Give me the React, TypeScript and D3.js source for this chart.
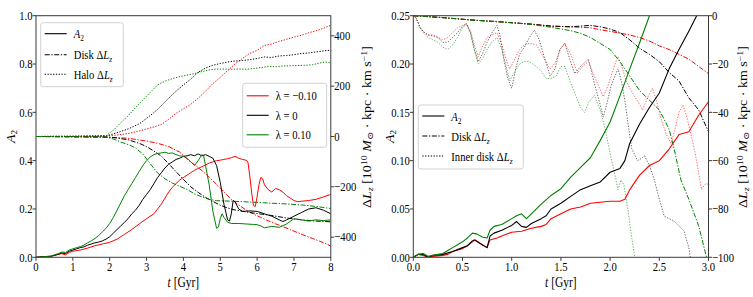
import React from 'react';
import * as d3 from 'd3';

type P = [number, number];

const SX = 0.82;
const FONT = "'Liberation Serif', 'DejaVu Serif', 'Times New Roman', serif";
const RED = '#ff0000';
const BLACK = '#000000';
const GREEN = '#008000';

// ---------- Left panel (0-8 Gyr) ----------
const leftXTicks = [0, 1, 2, 3, 4, 5, 6, 7, 8];
const leftATicks = [0, 0.2, 0.4, 0.6, 0.8, 1.0];
const leftLTicks = [-400, -200, 0, 200, 400];

const leftA2Red: P[] = [[0,0],[0.2,0.002],[0.4,0.004],[0.6,0.012],[0.7,0.015],[0.8,0.01],[0.9,0.02],[1.0,0.025],[1.2,0.03],[1.4,0.038],[1.6,0.048],[1.8,0.055],[2.0,0.062],[2.2,0.075],[2.4,0.095],[2.6,0.115],[2.8,0.138],[3.0,0.16],[3.2,0.18],[3.3,0.2],[3.4,0.22],[3.5,0.245],[3.6,0.27],[3.7,0.29],[3.8,0.305],[3.9,0.32],[4.0,0.33],[4.1,0.34],[4.2,0.35],[4.3,0.36],[4.4,0.368],[4.5,0.375],[4.6,0.382],[4.7,0.39],[4.8,0.395],[4.9,0.4],[5.0,0.402],[5.1,0.405],[5.2,0.408],[5.3,0.412],[5.4,0.418],[5.5,0.41],[5.6,0.405],[5.7,0.402],[5.75,0.395],[5.8,0.34],[5.85,0.27],[5.9,0.215],[5.95,0.21],[6.0,0.25],[6.05,0.3],[6.1,0.33],[6.15,0.325],[6.2,0.3],[6.3,0.28],[6.4,0.27],[6.5,0.285],[6.6,0.28],[6.7,0.27],[6.8,0.255],[6.9,0.245],[7.0,0.235],[7.1,0.23],[7.2,0.232],[7.4,0.235],[7.6,0.24],[7.8,0.25],[8.0,0.26]];
const leftA2Black: P[] = [[0,0],[0.2,0.003],[0.4,0.004],[0.6,0.012],[0.7,0.018],[0.8,0.015],[0.9,0.025],[1.0,0.03],[1.1,0.035],[1.2,0.04],[1.3,0.043],[1.4,0.05],[1.5,0.055],[1.6,0.06],[1.7,0.063],[1.8,0.068],[1.9,0.075],[2.0,0.085],[2.1,0.1],[2.2,0.115],[2.3,0.13],[2.4,0.145],[2.5,0.16],[2.6,0.18],[2.7,0.195],[2.8,0.215],[2.9,0.24],[3.0,0.26],[3.1,0.28],[3.2,0.305],[3.3,0.33],[3.4,0.35],[3.5,0.37],[3.6,0.385],[3.7,0.395],[3.8,0.405],[3.9,0.41],[4.0,0.418],[4.1,0.42],[4.2,0.425],[4.3,0.42],[4.4,0.428],[4.5,0.42],[4.6,0.425],[4.7,0.418],[4.8,0.41],[4.9,0.38],[5.0,0.31],[5.1,0.22],[5.2,0.155],[5.25,0.15],[5.3,0.18],[5.35,0.235],[5.4,0.23],[5.5,0.2],[5.6,0.19],[5.8,0.192],[6.0,0.19],[6.2,0.18],[6.4,0.17],[6.6,0.155],[6.7,0.148],[6.8,0.155],[7.0,0.17],[7.2,0.185],[7.4,0.2],[7.6,0.205],[7.8,0.195],[8.0,0.18]];
const leftA2Green: P[] = [[0,0],[0.2,0.002],[0.4,0.005],[0.6,0.015],[0.7,0.022],[0.8,0.02],[0.9,0.03],[1.0,0.035],[1.1,0.04],[1.2,0.044],[1.3,0.05],[1.4,0.06],[1.5,0.068],[1.6,0.078],[1.7,0.09],[1.8,0.105],[1.9,0.12],[2.0,0.14],[2.1,0.165],[2.2,0.195],[2.3,0.225],[2.4,0.255],[2.5,0.28],[2.6,0.305],[2.7,0.33],[2.8,0.355],[2.9,0.38],[3.0,0.4],[3.1,0.415],[3.2,0.425],[3.3,0.43],[3.4,0.432],[3.5,0.435],[3.6,0.43],[3.7,0.432],[3.8,0.425],[3.9,0.42],[4.0,0.418],[4.1,0.41],[4.2,0.395],[4.3,0.38],[4.4,0.4],[4.5,0.425],[4.55,0.42],[4.6,0.38],[4.7,0.3],[4.8,0.19],[4.9,0.12],[4.95,0.125],[5.0,0.16],[5.05,0.18],[5.1,0.165],[5.2,0.145],[5.3,0.14],[5.5,0.14],[5.7,0.138],[5.9,0.136],[6.0,0.135],[6.1,0.13],[6.2,0.122],[6.3,0.125],[6.4,0.128],[6.6,0.124],[6.8,0.138],[7.0,0.16],[7.2,0.155],[7.4,0.15],[7.6,0.155],[7.8,0.152],[8.0,0.155]];

const leftHaloRed: P[] = [[0,0],[0.5,1],[1.0,0],[1.5,2],[1.9,2],[2.2,6],[2.5,12],[2.8,22],[3.0,30],[3.2,38],[3.4,48],[3.6,68],[3.8,92],[4.0,110],[4.2,128],[4.4,152],[4.6,180],[4.8,210],[5.0,235],[5.2,262],[5.4,288],[5.6,310],[5.8,330],[6.0,342],[6.2,362],[6.4,368],[6.6,378],[6.8,386],[7.0,395],[7.2,402],[7.4,412],[7.6,420],[7.8,430],[8.0,442]];
const leftHaloBlack: P[] = [[0,0],[1,1],[1.9,2],[2.2,15],[2.5,30],[2.8,50],[3.0,72],[3.2,95],[3.4,122],[3.6,152],[3.8,180],[4.0,205],[4.2,228],[4.4,255],[4.6,272],[4.8,283],[5.0,290],[5.2,296],[5.4,300],[5.6,302],[5.8,305],[6.0,310],[6.2,316],[6.4,314],[6.6,320],[6.8,322],[7.0,325],[7.2,330],[7.4,332],[7.6,336],[7.8,340],[8.0,343]];
const leftHaloGreen: P[] = [[0,0],[1,1],[1.9,3],[2.1,25],[2.3,55],[2.5,82],[2.7,115],[2.9,145],[3.1,175],[3.3,205],[3.5,220],[3.7,230],[3.9,238],[4.1,244],[4.3,250],[4.5,258],[4.7,265],[4.9,268],[5.1,268],[5.3,267],[5.5,268],[5.7,267],[5.9,270],[6.1,274],[6.3,278],[6.5,277],[6.7,280],[6.9,281],[7.1,282],[7.3,283],[7.5,285],[7.7,292],[7.85,296],[8.0,293]];

const leftDiskRed: P[] = [[0,0],[1,-1],[2,-3],[2.5,-7],[3.0,-18],[3.3,-27],[3.6,-40],[3.9,-62],[4.1,-90],[4.3,-112],[4.5,-135],[4.7,-162],[4.9,-190],[5.1,-220],[5.3,-250],[5.5,-272],[5.7,-292],[5.9,-308],[6.1,-322],[6.3,-335],[6.5,-347],[6.7,-358],[6.9,-370],[7.1,-382],[7.3,-394],[7.5,-405],[7.7,-416],[7.9,-428],[8.0,-436]];
const leftDiskBlack: P[] = [[0,0],[1,-1],[1.9,-2],[2.2,-6],[2.5,-13],[2.8,-27],[3.0,-40],[3.2,-58],[3.4,-78],[3.6,-108],[3.8,-140],[4.0,-170],[4.2,-200],[4.4,-222],[4.6,-242],[4.8,-258],[5.0,-273],[5.2,-284],[5.4,-292],[5.6,-297],[5.8,-302],[6.0,-306],[6.4,-314],[6.8,-324],[7.2,-331],[7.6,-336],[8.0,-339]];
const leftDiskGreen: P[] = [[0,0],[1,-1],[1.9,-2],[2.1,-10],[2.3,-22],[2.5,-32],[2.7,-45],[2.9,-70],[3.1,-108],[3.3,-145],[3.5,-168],[3.7,-185],[3.9,-198],[4.1,-210],[4.3,-228],[4.5,-240],[4.7,-250],[4.9,-255],[5.1,-256],[5.3,-257],[5.6,-259],[6.0,-262],[6.4,-265],[6.8,-268],[7.2,-272],[7.6,-278],[8.0,-286]];

// ---------- Right panel (0-3 Gyr) ----------
const rightXTicks = [0, 0.5, 1.0, 1.5, 2.0, 2.5, 3.0];
const rightATicks = [0, 0.05, 0.1, 0.15, 0.2, 0.25];
const rightLTicks = [-100, -80, -60, -40, -20, 0];

const rightA2Red: P[] = [[0,0],[0.05,0.003],[0.1,0.002],[0.15,0],[0.2,0.001],[0.3,0.002],[0.35,0.003],[0.4,0.006],[0.5,0.009],[0.55,0.012],[0.6,0.016],[0.63,0.018],[0.7,0.013],[0.75,0.01],[0.78,0.018],[0.85,0.02],[0.95,0.024],[1.0,0.026],[1.1,0.027],[1.2,0.03],[1.3,0.032],[1.35,0.034],[1.4,0.04],[1.5,0.045],[1.6,0.05],[1.7,0.052],[1.8,0.056],[1.9,0.057],[2.0,0.058],[2.1,0.058],[2.15,0.06],[2.2,0.07],[2.3,0.085],[2.4,0.095],[2.5,0.1],[2.6,0.112],[2.7,0.127],[2.8,0.13],[2.9,0.147],[3.0,0.161]];
const rightA2Black: P[] = [[0,0],[0.05,0.003],[0.1,0.003],[0.15,0],[0.2,0.002],[0.3,0.003],[0.4,0.006],[0.5,0.01],[0.55,0.012],[0.6,0.017],[0.62,0.018],[0.7,0.013],[0.75,0.01],[0.78,0.022],[0.82,0.025],[0.9,0.028],[1.0,0.033],[1.05,0.037],[1.1,0.032],[1.15,0.031],[1.2,0.035],[1.3,0.04],[1.35,0.043],[1.4,0.05],[1.5,0.056],[1.6,0.063],[1.7,0.07],[1.8,0.074],[1.9,0.078],[2.0,0.088],[2.1,0.092],[2.15,0.1],[2.2,0.118],[2.3,0.138],[2.4,0.155],[2.5,0.17],[2.6,0.195],[2.7,0.215],[2.8,0.234],[2.9,0.254]];
const rightA2Green: P[] = [[0,0],[0.05,0.003],[0.1,0.004],[0.15,0.001],[0.2,0.002],[0.25,0.003],[0.3,0.004],[0.35,0.007],[0.4,0.01],[0.45,0.013],[0.5,0.016],[0.55,0.02],[0.6,0.025],[0.65,0.024],[0.7,0.021],[0.75,0.02],[0.78,0.028],[0.82,0.032],[0.9,0.034],[1.0,0.04],[1.05,0.043],[1.1,0.045],[1.15,0.04],[1.2,0.045],[1.3,0.055],[1.4,0.064],[1.5,0.071],[1.6,0.083],[1.7,0.093],[1.8,0.103],[1.9,0.121],[2.0,0.14],[2.1,0.167],[2.2,0.195],[2.3,0.222],[2.4,0.25],[2.45,0.265]];

const rightDiskRed: P[] = [[0,0],[0.3,-0.8],[0.6,-1.8],[0.9,-2.6],[1.2,-3.5],[1.4,-4.3],[1.6,-4.6],[1.8,-5],[1.9,-5.8],[2.0,-6.5],[2.1,-7.2],[2.2,-8],[2.3,-9],[2.4,-10.5],[2.5,-12.5],[2.6,-14],[2.7,-16],[2.8,-18],[2.9,-21],[3.0,-24]];
const rightDiskBlack: P[] = [[0,0],[0.3,-0.8],[0.6,-1.8],[0.9,-2.6],[1.2,-3.5],[1.4,-4.3],[1.6,-4.6],[1.8,-4],[1.9,-4.6],[2.0,-5.5],[2.1,-7],[2.2,-10],[2.3,-13.5],[2.4,-16],[2.5,-19],[2.6,-23.5],[2.7,-27],[2.8,-34],[2.9,-39],[3.0,-48]];
const rightDiskGreen: P[] = [[0,0],[0.3,-0.8],[0.6,-1.8],[0.9,-2.6],[1.2,-3.6],[1.4,-4.8],[1.5,-5.5],[1.6,-6.2],[1.7,-7.3],[1.8,-9],[1.9,-11.5],[2.0,-14],[2.1,-19],[2.2,-25],[2.3,-31],[2.4,-35],[2.5,-39],[2.6,-47],[2.65,-55],[2.72,-68],[2.8,-76],[2.9,-87],[2.98,-100],[3.0,-103]];

const rightInnerRed: P[] = [[0,0],[0.03,-1],[0.07,-5],[0.1,-6.5],[0.15,-8],[0.2,-8.5],[0.25,-9],[0.3,-10],[0.35,-9],[0.4,-7],[0.45,-5],[0.5,-4],[0.54,-3.5],[0.58,-6],[0.62,-12],[0.66,-17],[0.7,-13],[0.75,-9],[0.8,-8],[0.85,-7],[0.9,-12],[0.95,-19],[0.98,-22],[1.03,-18],[1.08,-14],[1.13,-12],[1.18,-11.4],[1.25,-12],[1.32,-17],[1.39,-22],[1.44,-19.7],[1.49,-14],[1.54,-11.4],[1.6,-16],[1.67,-23.8],[1.72,-21],[1.78,-19],[1.85,-26],[1.93,-33.5],[1.97,-30],[2.01,-25],[2.05,-20],[2.08,-17],[2.12,-21],[2.16,-26.6],[2.2,-30],[2.25,-33.5],[2.29,-36],[2.33,-39],[2.38,-34],[2.43,-30],[2.47,-35],[2.52,-43],[2.57,-49],[2.62,-53],[2.66,-47],[2.7,-40],[2.74,-37],[2.78,-42],[2.82,-48.7],[2.87,-58],[2.93,-72],[2.96,-70],[2.98,-69.4],[3.0,-70]];
const rightInnerBlack: P[] = [[0,0],[0.03,-1],[0.07,-5],[0.1,-6.5],[0.15,-8],[0.2,-8],[0.25,-9],[0.3,-11],[0.35,-11],[0.4,-9],[0.45,-7],[0.5,-4.5],[0.54,-3.2],[0.58,-7],[0.62,-14],[0.66,-19],[0.7,-16],[0.75,-11],[0.8,-7],[0.85,-4],[0.88,-8],[0.92,-18],[0.96,-26],[1.0,-30],[1.04,-22],[1.08,-16],[1.13,-13],[1.18,-9],[1.23,-6],[1.28,-10],[1.33,-17],[1.39,-25],[1.44,-22],[1.49,-14],[1.54,-11.5],[1.59,-18],[1.64,-24],[1.7,-21],[1.78,-18],[1.84,-28],[1.9,-37],[1.93,-42],[1.97,-36],[2.01,-29],[2.05,-25],[2.08,-22],[2.12,-28],[2.15,-35],[2.19,-47],[2.22,-55],[2.28,-60],[2.32,-59],[2.35,-58],[2.4,-62],[2.45,-68],[2.5,-76],[2.55,-83],[2.6,-84],[2.65,-85],[2.7,-87],[2.75,-89],[2.8,-96],[2.82,-101]];
const rightInnerGreen: P[] = [[0,0],[0.03,-1],[0.07,-5],[0.1,-7],[0.15,-9],[0.2,-10],[0.25,-11],[0.3,-13],[0.35,-14],[0.4,-12],[0.45,-9],[0.5,-5],[0.54,-3.5],[0.58,-7],[0.62,-14],[0.66,-20],[0.7,-18],[0.75,-14],[0.8,-11],[0.85,-9],[0.9,-14],[0.95,-22],[0.98,-27],[1.02,-24],[1.08,-20],[1.13,-19],[1.18,-19],[1.25,-21],[1.3,-23],[1.35,-26],[1.4,-26],[1.45,-25],[1.5,-21],[1.54,-21],[1.6,-28],[1.65,-33],[1.7,-38],[1.74,-40],[1.78,-36],[1.84,-33],[1.9,-39],[1.95,-47],[2.0,-57],[2.05,-66],[2.08,-72],[2.11,-68],[2.14,-70],[2.18,-80],[2.22,-92],[2.25,-100],[2.27,-106]];

const DASHDOT = '5,1.6,1.3,1.6';
const DOTTED = '1.3,1.5';

interface Series { data: P[]; axis: 'A' | 'L'; color: string; dash?: string; opacity?: number; width?: number; }

function T({ x, y, anchor = 'start', size = 13, rot = 0, children }: any) {
  return (
    <g transform={`translate(${x},${y}) scale(${SX},1)${rot ? ` rotate(${rot})` : ''}`}>
      <text textAnchor={anchor} style={{ fontFamily: FONT, fontSize: size }} fill="#000">{children}</text>
    </g>
  );
}

const minus = (v: number) => (v < 0 ? '\u2212' + Math.abs(v) : String(v));

const A2Label = () => (<><tspan fontStyle="italic">A</tspan><tspan dy={3} fontSize={9}>2</tspan></>);
const DLz = ({ pre }: { pre?: string }) => (
  <>{pre ? <tspan>{pre}</tspan> : null}<tspan>Δ</tspan><tspan fontStyle="italic">L</tspan><tspan dy={3} fontSize={9} fontStyle="italic">z</tspan></>
);
const LzAxisLabel = () => (
  <>
    <tspan>Δ</tspan><tspan fontStyle="italic">L</tspan><tspan dy={3} fontSize={10} fontStyle="italic">z</tspan>
    <tspan dy={-3}> [10</tspan><tspan dy={-5} fontSize={10}>10</tspan>
    <tspan dy={5}>  </tspan><tspan fontStyle="italic">M</tspan><tspan dy={3} fontSize={10}>⊙</tspan>
    <tspan dy={-3}> · kpc · km s</tspan><tspan dy={-5} fontSize={10}>−1</tspan><tspan dy={5}>]</tspan>
  </>
);

function Legend({ x, y, w, h, rows }: { x: number; y: number; w: number; h: number; rows: { label: any; color: string; dash?: string; dy: number }[] }) {
  return (
    <g>
      <rect x={x} y={y} width={w} height={h} rx={2.5} fill="#fff" fillOpacity={0.85} stroke="#cccccc" strokeWidth={0.9} />
      {rows.map((r, i) => (
        <g key={i}>
          <line x1={x + 4} x2={x + 26} y1={y + r.dy} y2={y + r.dy} stroke={r.color} strokeWidth={1.1} strokeDasharray={r.dash} />
          <T x={x + 33} y={y + r.dy + 4.5} size={13}>{r.label}</T>
        </g>
      ))}
    </g>
  );
}

function Panel(props: {
  id: string; left: number; right: number; top: number; bottom: number;
  xDomain: [number, number]; aDomain: [number, number]; lDomain: [number, number];
  xTicks: number[]; aTicks: number[]; lTicks: number[];
  xFmt: (v: number) => string; aFmt: (v: number) => string;
  series: Series[]; aLabelX: number; lLabelX: number; lLabelY: number;
}) {
  const { id, left, right, top, bottom } = props;
  const x = d3.scaleLinear().domain(props.xDomain).range([left, right]);
  const ya = d3.scaleLinear().domain(props.aDomain).range([bottom, top]);
  const yl = d3.scaleLinear().domain(props.lDomain).range([bottom, top]);
  const tick = 3.5;
  return (
    <g>
      <defs>
        <clipPath id={id}><rect x={left} y={top} width={right - left} height={bottom - top} /></clipPath>
      </defs>
      <g clipPath={`url(#${id})`}>
        {props.series.map((s, i) => {
          const ys = s.axis === 'A' ? ya : yl;
          const line = d3.line<P>().x(d => x(d[0])).y(d => ys(d[1]));
          return <path key={i} d={line(s.data) || ''} fill="none" stroke={s.color} strokeWidth={s.width ?? 1} strokeDasharray={s.dash} strokeOpacity={s.opacity ?? 1} strokeLinejoin="round" />;
        })}
      </g>
      <rect x={left} y={top} width={right - left} height={bottom - top} fill="none" stroke="#3a3a3a" strokeWidth={1} />
      {props.xTicks.map(v => (
        <g key={'x' + v}>
          <line x1={x(v)} x2={x(v)} y1={bottom} y2={bottom + tick} stroke="#3a3a3a" />
          <T x={x(v)} y={bottom + 14} anchor="middle">{props.xFmt(v)}</T>
        </g>
      ))}
      {props.aTicks.map(v => (
        <g key={'a' + v}>
          <line x1={left - tick} x2={left} y1={ya(v)} y2={ya(v)} stroke="#3a3a3a" />
          <T x={left - 3.5} y={ya(v) + 4.2} anchor="end">{props.aFmt(v)}</T>
        </g>
      ))}
      {props.lTicks.map(v => (
        <g key={'l' + v}>
          <line x1={right} x2={right + tick} y1={yl(v)} y2={yl(v)} stroke="#3a3a3a" />
          <T x={right + 3.5} y={yl(v) + 4.2} anchor="start">{minus(v)}</T>
        </g>
      ))}
      <T x={(left + right) / 2} y={bottom + 29.5} anchor="middle" size={14}>
        <tspan fontStyle="italic">t</tspan><tspan> [Gyr]</tspan>
      </T>
      <T x={props.aLabelX} y={(top + bottom) / 2} anchor="middle" size={14} rot={-90}><A2Label /></T>
      <T x={props.lLabelX} y={props.lLabelY} anchor="middle" size={14} rot={-90}><LzAxisLabel /></T>
    </g>
  );
}

export default function App() {
  const leftSeries: Series[] = [
    { data: leftHaloRed, axis: 'L', color: RED, dash: DOTTED },
    { data: leftHaloBlack, axis: 'L', color: BLACK, dash: DOTTED },
    { data: leftHaloGreen, axis: 'L', color: GREEN, dash: DOTTED },
    { data: leftDiskRed, axis: 'L', color: RED, dash: DASHDOT },
    { data: leftDiskBlack, axis: 'L', color: BLACK, dash: DASHDOT },
    { data: leftDiskGreen, axis: 'L', color: GREEN, dash: DASHDOT },
    { data: leftA2Red, axis: 'A', color: RED },
    { data: leftA2Black, axis: 'A', color: BLACK },
    { data: leftA2Green, axis: 'A', color: GREEN },
  ];
  const rightSeries: Series[] = [
    { data: rightInnerRed, axis: 'L', color: RED, dash: DOTTED, opacity: 0.6 },
    { data: rightInnerBlack, axis: 'L', color: BLACK, dash: DOTTED, opacity: 0.6 },
    { data: rightInnerGreen, axis: 'L', color: GREEN, dash: DOTTED, opacity: 0.6 },
    { data: rightDiskRed, axis: 'L', color: RED, dash: DASHDOT },
    { data: rightDiskBlack, axis: 'L', color: BLACK, dash: DASHDOT },
    { data: rightDiskGreen, axis: 'L', color: GREEN, dash: DASHDOT },
    { data: rightA2Red, axis: 'A', color: RED, width: 1.1 },
    { data: rightA2Black, axis: 'A', color: BLACK, width: 1.1 },
    { data: rightA2Green, axis: 'A', color: GREEN, width: 1.1 },
  ];
  return (
    <svg width={753} height={297} style={{ position: 'absolute', left: 0, top: 0, background: '#fff' }}>
      <rect width={753} height={297} fill="#fff" />
      <Panel id="clipL" left={36} right={330.8} top={15.7} bottom={257.3}
        xDomain={[0, 8]} aDomain={[0, 1]} lDomain={[-480, 480]}
        xTicks={leftXTicks} aTicks={leftATicks} lTicks={leftLTicks}
        xFmt={v => String(v)} aFmt={v => v.toFixed(1)}
        series={leftSeries} aLabelX={15} lLabelX={371} lLabelY={127} />
      <Panel id="clipR" left={413.3} right={708.5} top={15.7} bottom={257.3}
        xDomain={[0, 3]} aDomain={[0, 0.25]} lDomain={[-100, 0]}
        xTicks={rightXTicks} aTicks={rightATicks} lTicks={rightLTicks}
        xFmt={v => v.toFixed(1)} aFmt={v => v.toFixed(2)}
        series={rightSeries} aLabelX={394} lLabelX={747} lLabelY={127} />
      <Legend x={40.7} y={22.7} w={82.6} h={64} rows={[
        { label: <A2Label />, color: BLACK, dy: 11 },
        { label: <DLz pre="Disk " />, color: BLACK, dash: DASHDOT, dy: 32 },
        { label: <DLz pre="Halo " />, color: BLACK, dash: DOTTED, dy: 51.5 },
      ]} />
      <Legend x={242.7} y={83.3} w={84} h={64} rows={[
        { label: <><tspan>λ = −0.10</tspan></>, color: RED, dy: 12.5 },
        { label: <><tspan>λ = 0</tspan></>, color: BLACK, dy: 32 },
        { label: <><tspan>λ = 0.10</tspan></>, color: GREEN, dy: 51.5 },
      ]} />
      <Legend x={418.3} y={105} w={105} h={64} rows={[
        { label: <A2Label />, color: BLACK, dy: 11 },
        { label: <DLz pre="Disk " />, color: BLACK, dash: DASHDOT, dy: 31 },
        { label: <DLz pre="Inner disk " />, color: BLACK, dash: DOTTED, dy: 51 },
      ]} />
    </svg>
  );
}
